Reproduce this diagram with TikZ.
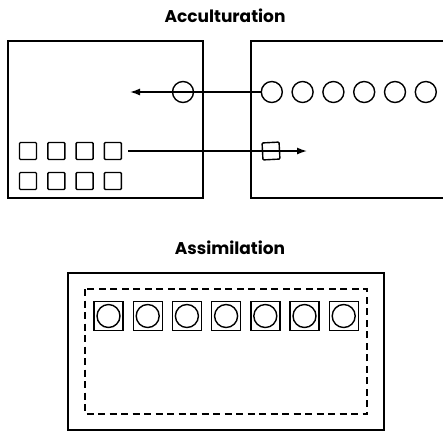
\documentclass[tikz,border=0pt]{standalone}
\usepackage{fontspec}
\setsansfont{Poppins}
\usetikzlibrary{arrows.meta}

\begin{document}
\begin{tikzpicture}[x=1pt, y=-1pt,
  frame/.style={line width=1.8pt},
  ring/.style={circle, draw, line width=1.4pt, minimum size=21pt, inner sep=0},
  sq/.style={draw, line width=1.4pt, minimum size=17pt, inner sep=0, rounded corners=1pt},
  cell/.style={draw, line width=1.4pt, minimum size=29pt, inner sep=0},
  flow/.style={line width=1.4pt, -{Latex[length=10pt, width=7pt]}},
  ttl/.style={font=\sffamily\bfseries\fontsize{17}{20}\selectfont}]
\useasboundingbox (0,0) rectangle (443,432);
% acculturation: two cultures in contact
\node[ttl] (acc) at (225,16) {Acculturation};
\draw[frame] (8,41) rectangle (203,198);
\draw[frame] (443,41) -- (251,41) -- (251,198) -- (443,198);
\foreach \i in {1,...,6}
  \node[ring] (r\i) at (241+30.8*\i, 92) {};
\node[ring] (mig) at (183,92) {};
\coordinate (inL) at (130,92);
\draw[flow] (r1.west) -- (inL);
\foreach \r/\y in {1/151, 2/181}
  \foreach \i in {1,...,4}
    \node[sq] (s\r\i) at (-0.3+28.3*\i, \y) {};
\node[sq, rotate=3] (mov) at (271,151) {};
\coordinate (outR) at (307,151);
\draw[flow] ([xshift=6pt]s14.east) -- (outR);
% assimilation: one culture absorbed
\node[ttl] (asm) at (230,248) {Assimilation};
\draw[frame] (68,273) rectangle (384,430);
\draw[line width=1.4pt, dash pattern=on 7pt off 4.5pt] (85,289) rectangle (367,414);
\foreach \i [count=\k from 0] in {1,...,7} {
  \node[cell] (b\i) at (108.5+39.2*\k, 316) {};
  \node[ring, minimum size=23pt] (g\i) at (b\i) {};
}
\end{tikzpicture}
\end{document}
